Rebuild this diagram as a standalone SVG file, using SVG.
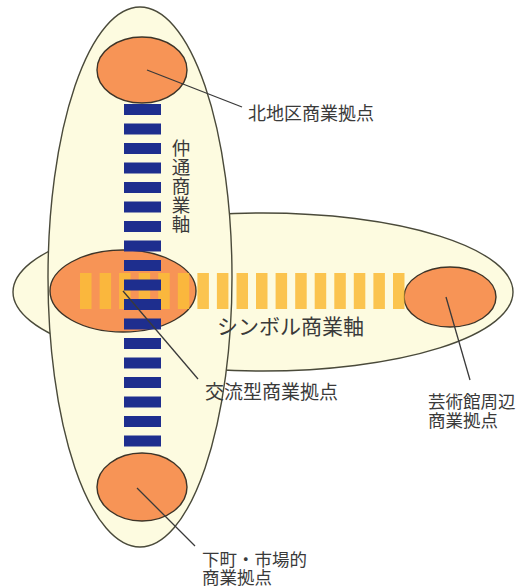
<svg xmlns="http://www.w3.org/2000/svg" width="528" height="588" viewBox="0 0 528 588">
<style>
.area{fill:#FDFBE0;stroke:#4a4a3a;stroke-width:1.4}
.hub{fill:#F79456;stroke:#3d3428;stroke-width:1.4}
.blue{fill:#1E2E8E}
.yel{fill:#FBBC3A;opacity:0.88}
.lead{stroke:#3a3a3a;stroke-width:1.3;fill:none}
.t{font-family:"Noto Sans CJK JP","Noto Sans",sans-serif;fill:#3a3a3a}
</style>
<rect width="528" height="588" fill="#ffffff"/>
<g id="symbol-axis-area"><ellipse class="area" cx="263" cy="292" rx="250" ry="79"/></g>
<g id="nakadori-axis-area"><ellipse class="area" cx="140" cy="277" rx="92" ry="270"/></g>
<g id="north-hub"><ellipse class="hub" cx="142" cy="70" rx="45" ry="33"/></g>
<g id="exchange-hub"><ellipse class="hub" cx="123" cy="291" rx="73" ry="41"/></g>
<g id="art-hub"><ellipse class="hub" cx="450" cy="297" rx="46" ry="30"/></g>
<g id="market-hub"><ellipse class="hub" cx="142" cy="487" rx="45" ry="34"/></g>
<g id="symbol-axis-bars">
<rect class="yel" x="80" y="273" width="11.5" height="36"/>
<rect class="yel" x="99.6" y="273" width="11.5" height="36"/>
<rect class="yel" x="119.1" y="273" width="11.5" height="36"/>
<rect class="yel" x="138.7" y="273" width="11.5" height="36"/>
<rect class="yel" x="158.2" y="273" width="11.5" height="36"/>
<rect class="yel" x="177.8" y="273" width="11.5" height="36"/>
<rect class="yel" x="197.4" y="273" width="11.5" height="36"/>
<rect class="yel" x="216.9" y="273" width="11.5" height="36"/>
<rect class="yel" x="236.5" y="273" width="11.5" height="36"/>
<rect class="yel" x="256" y="273" width="11.5" height="36"/>
<rect class="yel" x="275.6" y="273" width="11.5" height="36"/>
<rect class="yel" x="295.2" y="273" width="11.5" height="36"/>
<rect class="yel" x="314.7" y="273" width="11.5" height="36"/>
<rect class="yel" x="334.3" y="273" width="11.5" height="36"/>
<rect class="yel" x="353.8" y="273" width="11.5" height="36"/>
<rect class="yel" x="373.4" y="273" width="11.5" height="36"/>
<rect class="yel" x="393" y="273" width="11.5" height="36"/>
</g>
<g id="nakadori-axis-bars">
<rect class="blue" x="124" y="104" width="37" height="11"/>
<rect class="blue" x="124" y="123.5" width="37" height="11"/>
<rect class="blue" x="124" y="143" width="37" height="11"/>
<rect class="blue" x="124" y="162.5" width="37" height="11"/>
<rect class="blue" x="124" y="182" width="37" height="11"/>
<rect class="blue" x="124" y="201.5" width="37" height="11"/>
<rect class="blue" x="124" y="221" width="37" height="11"/>
<rect class="blue" x="124" y="240.5" width="37" height="11"/>
<rect class="blue" x="124" y="260" width="37" height="11"/>
<rect class="blue" x="124" y="279.5" width="37" height="11"/>
<rect class="blue" x="124" y="299" width="37" height="11"/>
<rect class="blue" x="124" y="318.5" width="37" height="11"/>
<rect class="blue" x="124" y="338" width="37" height="11"/>
<rect class="blue" x="124" y="357.5" width="37" height="11"/>
<rect class="blue" x="124" y="377" width="37" height="11"/>
<rect class="blue" x="124" y="396.5" width="37" height="11"/>
<rect class="blue" x="124" y="416" width="37" height="11"/>
<rect class="blue" x="124" y="435.5" width="37" height="11"/>
</g>
<g id="connectors">
<line class="lead" x1="147" y1="70" x2="242" y2="107"/>
<line class="lead" x1="123" y1="291" x2="198" y2="379"/>
<line class="lead" x1="446" y1="297" x2="470" y2="380"/>
<line class="lead" x1="137" y1="488" x2="195" y2="546"/>
</g>
<g id="labels">
<text class="t" font-size="18.5" x="181" y="139" writing-mode="vertical-rl" letter-spacing="0.5">仲通商業軸</text>
<text class="t" font-size="21" x="217" y="334">シンボル商業軸</text>
<text class="t" font-size="18" x="248" y="120">北地区商業拠点</text>
<text class="t" font-size="19" x="205" y="399">交流型商業拠点</text>
<text class="t" font-size="17.5" x="428" y="408">芸術館周辺</text>
<text class="t" font-size="17.5" x="428" y="427">商業拠点</text>
<text class="t" font-size="17.5" x="202" y="566">下町・市場的</text>
<text class="t" font-size="17.5" x="202" y="584">商業拠点</text>
</g>
</svg>
